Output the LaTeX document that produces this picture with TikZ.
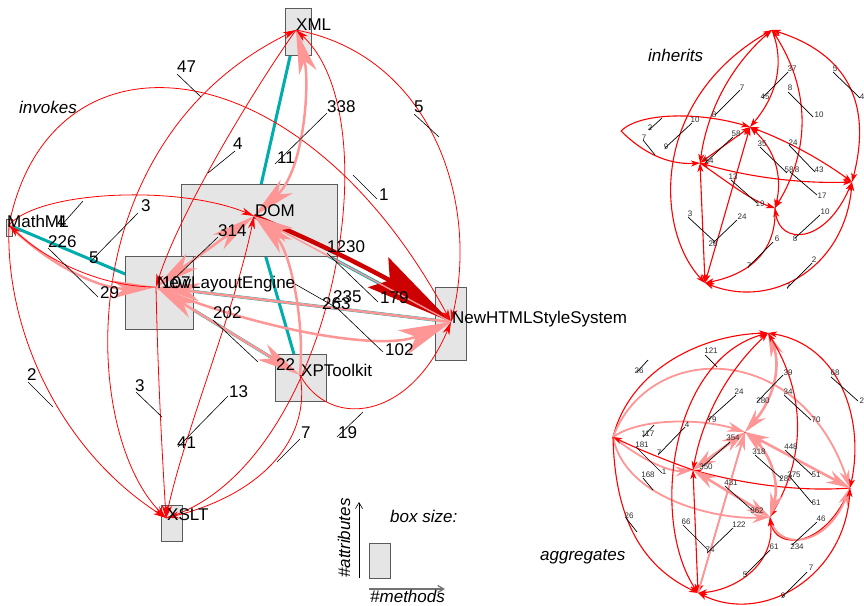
\documentclass[tikz,border=0pt]{standalone}
\usepackage{fontspec}
\setmainfont{Liberation Sans}
\usetikzlibrary{arrows.meta}
\definecolor{pinkE}{RGB}{255,150,150}
\definecolor{darkE}{RGB}{204,0,0}
\definecolor{tealE}{RGB}{0,172,172}
\definecolor{boxfill}{RGB}{229,229,229}
\definecolor{boxline}{RGB}{90,90,90}
\definecolor{numgray}{RGB}{45,45,45}
\begin{document}
\begin{tikzpicture}[x=1pt,y=-1pt,
  clsname/.style={font=\fontsize{17}{20}\selectfont, inner sep=0pt, anchor=base west},
  numL/.style={font=\fontsize{17}{20}\selectfont, inner sep=0pt, anchor=base west},
  numS/.style={font=\fontsize{8}{9}\selectfont, inner sep=0pt, anchor=center, text=numgray},
  heading/.style={font=\itshape\fontsize{17}{20}\selectfont, inner sep=0pt, anchor=base west},
  clsbox/.style={draw=boxline, fill=boxfill, line width=0.8pt},
  leader/.style={black, line width=0.6pt},
  leaderS/.style={black, line width=0.7pt},
  tealline/.style={tealE, line width=3pt},
  redline/.style={red, line width=0.8pt},
  redA/.style={redline, -{Stealth[length=13pt,width=7pt,inset=4pt]}},
  redB/.style={redline, {Stealth[length=13pt,width=7pt,inset=4pt]}-{Stealth[length=13pt,width=7pt,inset=4pt]}},
  pinkA/.style={pinkE, line width=2.5pt, -{Stealth[length=44pt,width=18pt,inset=12pt]}},
  pinkB/.style={pinkE, line width=2.5pt, {Stealth[length=44pt,width=18pt,inset=12pt]}-{Stealth[length=44pt,width=18pt,inset=12pt]}},
  pinkWide/.style={pinkE, line width=2.5pt, -{Stealth[length=52pt,width=26pt,inset=14pt]}},
  pinkThin/.style={pinkE, line width=1.4pt, -{Stealth[length=40pt,width=16pt,inset=10pt]}},
  darkA/.style={darkE, line width=4.5pt, -{Stealth[length=88pt,width=36pt,inset=14pt]}},
  smline/.style={red, line width=1.1pt},
  smA/.style={smline, -{Stealth[length=9pt,width=6pt,inset=2.5pt]}},
  smB/.style={smline, {Stealth[length=9pt,width=6pt,inset=2.5pt]}-{Stealth[length=9pt,width=6pt,inset=2.5pt]}},
  spA/.style={pinkE, line width=1.8pt, -{Stealth[length=18pt,width=10pt,inset=6pt]}},
  spB/.style={pinkE, line width=2.6pt, {Stealth[length=24pt,width=13pt,inset=8pt]}-{Stealth[length=24pt,width=13pt,inset=8pt]}},
  legendarrow/.style={line width=0.6pt, -{Straight Barb[length=6pt,width=7pt]}}
]
\useasboundingbox (0,0) rectangle (864,605);

% ---------------- invokes ----------------
\coordinate (xml) at (296,30);
\coordinate (mml) at (9,225);
\coordinate (dom) at (254,216);
\coordinate (nle) at (156,287);
\coordinate (nhss) at (451,322);
\coordinate (xpt) at (300,375);
\coordinate (xslt) at (166,518);

% attribute links
\draw[tealline] (xml) -- (dom);
\draw[tealline] (mml) -- (nle);
\draw[tealline] (dom) -- (nhss);
\draw[tealline] (nle) -- (nhss);
\draw[tealline] (nle) -- (xpt);
\draw[tealline] (dom) -- (xpt);

% class boxes
\draw[clsbox] (285,8) rectangle (311,55);
\draw[clsbox] (181,184) rectangle (337,256);
\draw[clsbox] (125,256) rectangle (193,329);
\draw[clsbox] (435,287) rectangle (466,360);
\draw[clsbox] (275,354) rectangle (326,401);
\draw[clsbox] (161,505) rectangle (182,541);
\draw[clsbox] (6,219) rectangle (12,236);

% calls
\draw[redA] (mml) .. controls (50,20) and (300,40) .. (nhss);
\draw[redB] (xslt) .. controls (80,430) and (70,140) .. (xml);
\draw[redA] (xml) .. controls (260,80) and (180,210) .. (nle);
\draw[pinkB] (dom) .. controls (305,170) and (310,80) .. (xml);
\draw[redA] (xml) .. controls (430,55) and (480,200) .. (nhss);
\draw[redA] (xslt) .. controls (330,470) and (395,120) .. (xml);
\draw[redA] (xpt) .. controls (312,440) and (260,495) .. (xslt);
\draw[redA] (mml) .. controls (40,190) and (180,185) .. (dom);
\draw[pinkA] (mml) .. controls (45,262) and (100,290) .. (nle);
\draw[redA] (nle) .. controls (95,287) and (40,255) .. (mml);
\draw[redA] (mml) .. controls (5,330) and (60,450) .. (xslt);
\draw[redA] (nle) .. controls (158,380) and (162,450) .. (xslt);
\draw[redB] (xslt) .. controls (185,430) and (235,310) .. (dom);
\draw[pinkB] (nle) -- (dom);
\draw[darkA] (dom) .. controls (323.5,244.3) and (389,279.7) .. (nhss);
\draw[pinkThin] (nhss) -- (dom);
\draw[pinkWide] (nle) .. controls (251,327.5) and (380,352) .. (nhss);
\draw[pinkA] (nhss) -- (nle);
\draw[pinkB] (nle) -- (xpt);
\draw[pinkA] (xpt) .. controls (305,320) and (290,250) .. (dom);
\draw[redA] (xpt) .. controls (330,430) and (410,420) .. (nhss);

% count leaders
\draw[leader] (177,74) -- (201,97);
\draw[leader] (235,151) -- (208,173);
\draw[leader] (327,113) -- (275,164);
\draw[leader] (414,114) -- (439,137);
\draw[leader] (353,175) -- (377,199);
\draw[leader] (138,213) -- (90,262);
\draw[leader] (60,227) -- (83,201);
\draw[leader] (48,248) -- (98,297);
\draw[leader] (218,237) -- (173,280);
\draw[leader] (213,320) -- (258,362);
\draw[leader] (327,253) -- (378,302);
\draw[leader] (295,284) -- (337,308);
\draw[leader] (337,308) -- (383,352);
\draw[leader] (28,382) -- (53,407);
\draw[leader] (136,392) -- (162,417);
\draw[leader] (228,396) -- (178,447);
\draw[leader] (300,439) -- (277,462);
\draw[leader] (337,437) -- (363,412);

% class names
\node[clsname] (nXML) at (296,30) {XML};
\node[clsname] (nDOM) at (255,216) {DOM};
\node[clsname] (nNLE) at (157,288) {NewLayoutEngine};
\node[clsname] (nNHSS) at (452,323) {NewHTMLStyleSystem};
\node[clsname] (nXPT) at (301,376) {XPToolkit};
\node[clsname] (nXSLT) at (167,520) {XSLT};
\node[clsname] (nMML) at (7,227) {MathML};

% counts
\node[numL] (c47) at (177,72) {47};
\node[numL] (c4a) at (233,149) {4};
\node[numL] (c11) at (277,163) {11};
\node[numL] (c338) at (327,112) {338};
\node[numL] (c5a) at (414,112) {5};
\node[numL] (c1) at (379,200) {1};
\node[numL] (c3a) at (141,211) {3};
\node[numL] (c5b) at (89,263) {5};
\node[numL] (c4b) at (57,227) {4};
\node[numL] (c226) at (48,247) {226};
\node[numL] (c29) at (100,298) {29};
\node[numL] (c314) at (218,236) {314};
\node[numL] (c107) at (162,288) {107};
\node[numL] (c202) at (213,318) {202};
\node[numL] (c22) at (276,370) {22};
\node[numL] (c1230) at (327,252) {1230};
\node[numL] (c179) at (380,303) {179};
\node[numL] (c235) at (333,302) {235};
\node[numL] (c263) at (322,309) {263};
\node[numL] (c102) at (385,355) {102};
\node[numL] (c2) at (27,380) {2};
\node[numL] (c3b) at (135,391) {3};
\node[numL] (c13) at (229,397) {13};
\node[numL] (c41) at (177,448) {41};
\node[numL] (c7) at (301,438) {7};
\node[numL] (c19) at (338,438) {19};

\node[heading] (hInv) at (19,113) {invokes};

% legend
\node[heading] (hBox) at (390,522) {box size:};
\coordinate (legV0) at (359,578);
\coordinate (legV1) at (359,502);
\draw[legendarrow] (legV0) -- (legV1);
\node[heading, rotate=90] (hAttr) at (350,578) {\#attributes};
\draw[clsbox] (369,543) rectangle (390,578);
\coordinate (legH0) at (369,589);
\coordinate (legH1) at (445,589);
\draw[legendarrow, draw=black!55, line width=1.3pt] (legH0) -- (legH1);
\node[heading] (hMeth) at (370,602) {\#methods};

% ---------------- inherits ----------------
\coordinate (iT) at (772,30);
\coordinate (iL) at (621,131);
\coordinate (iB) at (750,127);
\coordinate (iA) at (700,163);
\coordinate (iC) at (775,208);
\coordinate (iD) at (852,182);
\coordinate (iE) at (705,283);

\draw[smB] (iE) .. controls (655,230) and (650,100) .. (iT);
\draw[smB] (iA) .. controls (707.5,110) and (731.5,65) .. (iT);
\draw[smA] (iT) .. controls (784.7,62.3) and (777.3,94.7) .. (iB);
\draw[smB] (iT) .. controls (810,89) and (811,149) .. (iC);
\draw[smB] (iT) .. controls (848.7,54.2) and (872,104.8) .. (iD);
\draw[smA] (iL) .. controls (640,112) and (700,112) .. (iB);
\draw[smA] (iL) .. controls (640,150) and (665,165) .. (iA);
\draw[smB] (iA) -- (iB);
\draw[smB] (iA) .. controls (749.7,177.3) and (800.3,183.7) .. (iD);
\draw[smB] (iB) .. controls (786.5,140.6) and (820.5,159) .. (iD);
\draw[smA] (iA) .. controls (725,180) and (750,200) .. (iC);
\draw[smB] (iB) .. controls (774.5,149) and (782.9,176) .. (iC);
\draw[smB] (iC) .. controls (780,245) and (825,245) .. (iD);
\draw[smB] (iA) -- (iE);
\draw[smB] (iB) -- (iE);
\draw[smA] (iC) .. controls (777,255) and (745,275) .. (iE);
\draw[smB] (iD) .. controls (845,265) and (775,310) .. (iE);

\draw[leaderS] (788,72) -- (762,98);
\draw[leaderS] (740,90) -- (715,115);
\draw[leaderS] (788,92) -- (813,117);
\draw[leaderS] (833,72) -- (860,98);
\draw[leaderS] (649,130) -- (662,118);
\draw[leaderS] (692,123) -- (665,148);
\draw[leaderS] (643,140) -- (655,155);
\draw[leaderS] (733,137) -- (705,163);
\draw[leaderS] (760,147) -- (787,173);
\draw[leaderS] (789,145) -- (815,172);
\draw[leaderS] (790,172) -- (817,195);
\draw[leaderS] (731,180) -- (757,203);
\draw[leaderS] (820,215) -- (795,238);
\draw[leaderS] (688,217) -- (715,242);
\draw[leaderS] (737,220) -- (713,243);
\draw[leaderS] (773,242) -- (748,267);
\draw[leaderS] (812,263) -- (787,288);

\node[heading] (hInh) at (648,61) {inherits};
\node[numS] (i37) at (792,69) {37};
\node[numS] (i45) at (765,97) {45};
\node[numS] (i7a) at (742,88) {7};
\node[numS] (i8a) at (714,115) {8};
\node[numS] (i8b) at (790,88) {8};
\node[numS] (i10a) at (819,115) {10};
\node[numS] (i5) at (835,69) {5};
\node[numS] (i4) at (862,97) {4};
\node[numS] (i2a) at (650,128) {2};
\node[numS] (i10b) at (695,120) {10};
\node[numS] (i9) at (666,147) {9};
\node[numS] (i7b) at (644,138) {7};
\node[numS] (i58a) at (736,134) {58};
\node[numS] (i54) at (709,161) {54};
\node[numS] (i35) at (762,144) {35};
\node[numS] (i58b) at (789,170) {58};
\node[numS] (i8c) at (797,170) {8};
\node[numS] (i24a) at (793,143) {24};
\node[numS] (i43) at (819,170) {43};
\node[numS] (i17) at (822,196) {17};
\node[numS] (i13) at (733,177) {13};
\node[numS] (i19) at (760,204) {19};
\node[numS] (i10c) at (825,212) {10};
\node[numS] (i8d) at (795,239) {8};
\node[numS] (i3) at (690,214) {3};
\node[numS] (i28) at (713,244) {28};
\node[numS] (i24b) at (742,217) {24};
\node[numS] (i6) at (777,239) {6};
\node[numS] (i7c) at (749,266) {7};
\node[numS] (i2b) at (814,260) {2};
\node[numS] (i7d) at (788,287) {7};

% ---------------- aggregates ----------------
\coordinate (aT) at (768,333);
\coordinate (aL) at (613,437);
\coordinate (aB) at (745,432);
\coordinate (aA) at (693,470);
\coordinate (aC) at (770,517);
\coordinate (aD) at (850,488);
\coordinate (aE) at (698,593);

\draw[smA] (aL) .. controls (630,370) and (700,335) .. (aT);
\draw[spA] (aL) .. controls (650,340) and (800,340) .. (aD);
\draw[spA] (aL) .. controls (640,418) and (700,418) .. (aB);
\draw[spA] (aL) .. controls (645,462) and (670,472) .. (aA);
\draw[smA] (aA) .. controls (670,462) and (640,450) .. (aL);
\draw[spA] (aL) .. controls (625,500) and (720,520) .. (aC);
\draw[smA] (aL) .. controls (615,530) and (650,570) .. (aE);
\draw[smB] (aT) .. controls (728,370.5) and (703,416) .. (aA);
\draw[smB] (aT) .. controls (670,360) and (650,520) .. (aE);
\draw[spB] (aT) .. controls (781.3,366) and (773.7,399) .. (aB);
\draw[smB] (aT) .. controls (805.7,394) and (806.3,456) .. (aC);
\draw[smB] (aT) .. controls (840,345) and (865,420) .. (aD);
\draw[spB] (aA) -- (aB);
\draw[smA] (aD) .. controls (800,492) and (745,484) .. (aA);
\draw[spB] (aB) -- (aD);
\draw[spB] (aA) -- (aC);
\draw[spB] (aB) .. controls (771.3,455) and (779.7,483.4) .. (aC);
\draw[smA] (aD) .. controls (825,550) and (775,550) .. (aC);
\draw[spA] (aC) .. controls (775,550) and (825,550) .. (aD);
\draw[smB] (aA) -- (aE);
\draw[smA] (aB) -- (aE);
\draw[spA] (aE) -- (aB);
\draw[smB] (aC) .. controls (775,565) and (735,590) .. (aE);
\draw[smB] (aD) .. controls (845,575) and (765,625) .. (aE);

\draw[leaderS] (705,355) -- (717,367);
\draw[leaderS] (637,372) -- (648,360);
\draw[leaderS] (783,375) -- (757,402);
\draw[leaderS] (784,395) -- (811,420);
\draw[leaderS] (831,377) -- (858,401);
\draw[leaderS] (736,395) -- (708,420);
\draw[leaderS] (643,437) -- (654,425);
\draw[leaderS] (685,427) -- (658,455);
\draw[leaderS] (636,447) -- (662,473);
\draw[leaderS] (643,478) -- (653,490);
\draw[leaderS] (730,442) -- (702,467);
\draw[leaderS] (785,450) -- (812,475);
\draw[leaderS] (755,455) -- (782,479);
\draw[leaderS] (790,477) -- (812,503);
\draw[leaderS] (725,486) -- (752,510);
\draw[leaderS] (817,522) -- (792,545);
\draw[leaderS] (626,518) -- (637,532);
\draw[leaderS] (683,525) -- (708,550);
\draw[leaderS] (733,528) -- (707,553);
\draw[leaderS] (770,550) -- (745,575);
\draw[leaderS] (807,572) -- (782,597);

\node[heading] (hAgg) at (540,560) {aggregates};
\node[numS] (g121) at (711,351) {121};
\node[numS] (g26a) at (639,371) {26};
\node[numS] (g39) at (788,373) {39};
\node[numS] (g280) at (763,401) {280};
\node[numS] (g34) at (788,392) {34};
\node[numS] (g70) at (816,420) {70};
\node[numS] (g68) at (835,373) {68};
\node[numS] (g27) at (864,401) {27};
\node[numS] (g24) at (739,392) {24};
\node[numS] (g79) at (712,420) {79};
\node[numS] (g117) at (648,434) {117};
\node[numS] (g4) at (687,425) {4};
\node[numS] (g7a) at (659,453) {7};
\node[numS] (g181) at (642,445) {181};
\node[numS] (g1) at (664,472) {1};
\node[numS] (g168) at (648,475) {168};
\node[numS] (g354) at (733,438) {354};
\node[numS] (g350) at (706,467) {350};
\node[numS] (g448) at (791,447) {448};
\node[numS] (g51) at (816,475) {51};
\node[numS] (g318) at (759,452) {318};
\node[numS] (g287) at (786,479) {287};
\node[numS] (g375) at (794,475) {375};
\node[numS] (g61a) at (816,503) {61};
\node[numS] (g431) at (731,483) {431};
\node[numS] (g362) at (757,511) {362};
\node[numS] (g46) at (821,519) {46};
\node[numS] (g234) at (797,547) {234};
\node[numS] (g26b) at (629,516) {26};
\node[numS] (g66) at (686,522) {66};
\node[numS] (g74) at (710,550) {74};
\node[numS] (g122) at (739,525) {122};
\node[numS] (g61b) at (774,547) {61};
\node[numS] (g5) at (745,575) {5};
\node[numS] (g7b) at (811,568) {7};
\node[numS] (g9) at (783,596) {9};
\end{tikzpicture}
\end{document}
